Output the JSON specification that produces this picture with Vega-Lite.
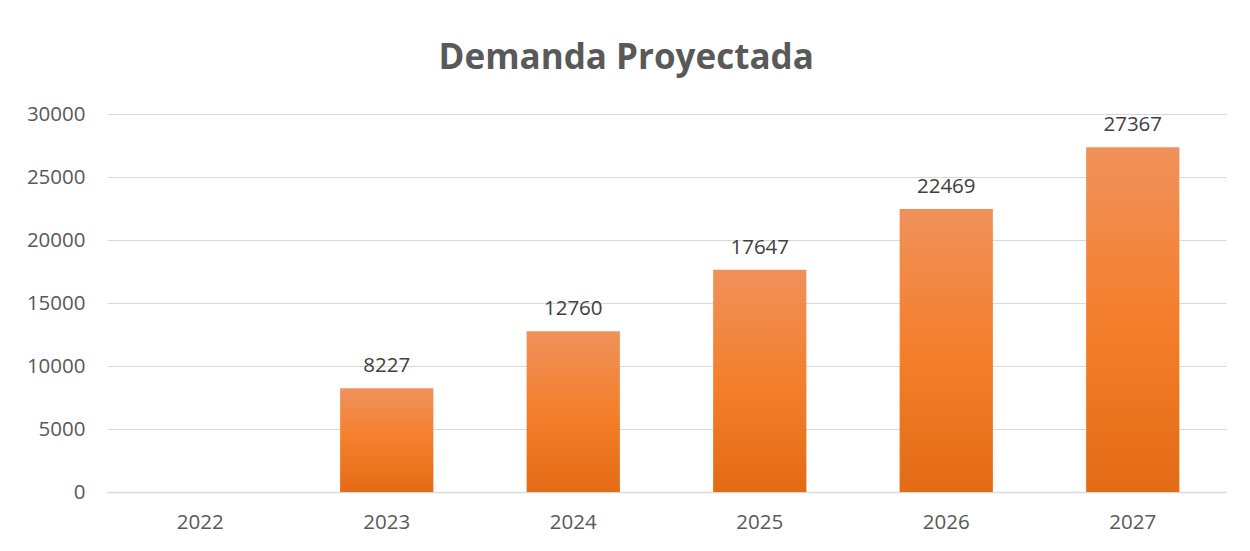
{
  "$schema": "https://vega.github.io/schema/vega-lite/v6.json",
  "autosize": "none",
  "width": 1119,
  "height": 378,
  "padding": {"left": 107, "top": 114, "right": 24, "bottom": 59},
  "background": "white",
  "title": {
    "text": "Demanda Proyectada",
    "font": "Open Sans",
    "fontSize": 35,
    "fontWeight": "bold",
    "color": "#595959",
    "anchor": "middle",
    "frame": "bounds",
    "baseline": "alphabetic",
    "offset": 0
  },
  "data": {
    "values": [
      {"year": "2023", "demanda": 8227},
      {"year": "2024", "demanda": 12760},
      {"year": "2025", "demanda": 17647},
      {"year": "2026", "demanda": 22469},
      {"year": "2027", "demanda": 27367}
    ]
  },
  "encoding": {
    "x": {
      "field": "year",
      "type": "nominal",
      "scale": {"domain": ["2022", "2023", "2024", "2025", "2026", "2027"], "paddingInner": 0.5, "paddingOuter": 0.25},
      "axis": {
        "title": null,
        "labelAngle": 0,
        "labelFont": "Open Sans",
        "labelFontSize": 20.5,
        "labelColor": "#595959",
        "ticks": false,
        "tickSize": 0,
        "labelPadding": 20,
        "domainColor": "#D9D9D9",
        "domainWidth": 1.5,
        "grid": false
      }
    },
    "y": {
      "field": "demanda",
      "type": "quantitative",
      "scale": {"domain": [0, 30000], "nice": false},
      "axis": {
        "title": null,
        "values": [0, 5000, 10000, 15000, 20000, 25000, 30000],
        "format": "d",
        "labelFont": "Open Sans",
        "labelFontSize": 20.5,
        "labelColor": "#595959",
        "ticks": false,
        "tickSize": 0,
        "labelPadding": 22,
        "domain": false,
        "grid": true,
        "gridColor": "#D9D9D9",
        "gridWidth": 1.2
      }
    }
  },
  "layer": [
    {
      "mark": {
        "type": "bar",
        "color": {
          "gradient": "linear",
          "x1": 0, "y1": 0, "x2": 0, "y2": 1,
          "stops": [
            {"offset": 0, "color": "#F0915B"},
            {"offset": 0.5, "color": "#F47F2C"},
            {"offset": 1, "color": "#E46B15"}
          ]
        }
      }
    },
    {
      "mark": {
        "type": "text",
        "font": "Open Sans",
        "fontSize": 20.5,
        "color": "#404040",
        "baseline": "alphabetic",
        "dy": -16
      },
      "encoding": {
        "text": {"field": "demanda", "type": "quantitative", "format": "d"}
      }
    }
  ],
  "config": {"view": {"stroke": null}}
}
